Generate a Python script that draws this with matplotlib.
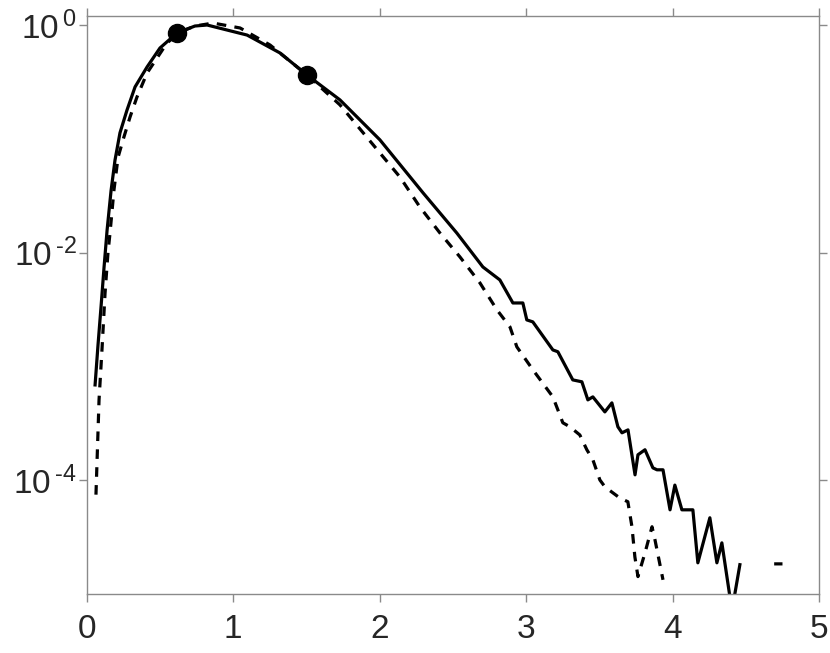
import numpy as np
import matplotlib
matplotlib.use("Agg")
from matplotlib import pyplot as plt
from matplotlib.ticker import FixedLocator, NullLocator

plt.rcParams['font.family'] = ['Liberation Sans', 'DejaVu Sans']
plt.rcParams['mathtext.fontset'] = 'custom'
plt.rcParams['mathtext.rm'] = 'Liberation Sans'

# solid curve (nan = empty bin)
solid_x = [0.057, 0.077, 0.098, 0.118, 0.139, 0.166, 0.193, 0.227, 0.275, 0.330,
           0.412, 0.500, 0.616, 0.739, 0.822, 1.095, 1.32, 1.504, 1.729, 2.002,
           2.297, 2.527, 2.705, 2.821, 2.910, 2.978, 3.005, 3.046, 3.183, 3.217,
           3.319, 3.381, 3.422, 3.456, 3.538, 3.586, 3.627, 3.655, 3.696, 3.744,
           3.764, 3.812, 3.866, 3.894, 3.935, 3.983, 4.016, 4.064, 4.139, 4.173,
           4.255, 4.303, 4.337, 4.406, 4.460, 4.58, 4.705, 4.74]
solid_y = [6.9e-4, 1.55e-3, 3.4e-3, 7.4e-3, 1.58e-2, 3.5e-2, 6.5e-2, 0.113, 0.179, 0.286,
           0.428, 0.628, 0.85, 0.98, 1.0, 0.816, 0.568, 0.364, 0.220, 0.098,
           3.35e-2, 1.49e-2, 7.5e-3, 5.77e-3, 3.62e-3, 3.62e-3, 2.57e-3, 2.47e-3, 1.40e-3, 1.35e-3,
           7.64e-4, 7.35e-4, 5.1e-4, 5.42e-4, 4.0e-4, 4.8e-4, 2.96e-4, 2.62e-4, 2.78e-4, 1.12e-4,
           1.68e-4, 1.86e-4, 1.29e-4, 1.24e-4, 1.24e-4, 5.52e-5, 9.1e-5, 5.52e-5, 5.52e-5, 1.89e-5,
           4.7e-5, 1.89e-5, 2.83e-5, 7.2e-6, 1.82e-5, np.nan, 1.85e-5, 1.85e-5]

# dashed curve
dash_x = [0.063, 0.084, 0.104, 0.125, 0.145, 0.159, 0.186, 0.214, 0.248, 0.296,
          0.343, 0.412, 0.480, 0.548, 0.637, 0.739, 0.863, 1.047, 1.252, 1.504,
          1.729, 2.002, 2.139, 2.275, 2.412, 2.548, 2.685, 2.801, 2.890, 2.937,
          3.047, 3.183, 3.251, 3.299, 3.367, 3.415, 3.456, 3.504, 3.538, 3.586,
          3.641, 3.695, 3.723, 3.743, 3.764, 3.812, 3.860, 3.880, 3.935]
dash_y = [7.5e-5, 5.1e-4, 1.4e-3, 4.4e-3, 1.0e-2, 1.49e-2, 3.56e-2, 6.9e-2, 9.8e-2, 0.156,
          0.233, 0.379, 0.513, 0.695, 0.869, 0.98, 1.04, 0.942, 0.667, 0.364,
          0.199, 0.0752, 4.62e-2, 2.52e-2, 1.49e-2, 9.2e-3, 5.43e-3, 3.15e-3, 2.23e-3, 1.49e-3,
          9.35e-4, 5.42e-4, 3.21e-4, 2.96e-4, 2.51e-4, 1.86e-4, 1.52e-4, 1.01e-4, 8.8e-5, 7.9e-5,
          7.0e-5, 6.5e-5, 3.92e-5, 2.13e-5, 1.43e-5, 2.31e-5, 3.92e-5, 3.02e-5, 1.34e-5]

# highlighted points
mark_x = [0.616, 1.504]
mark_y = [0.85, 0.364]

x_ticks = [0, 1, 2, 3, 4, 5]
y_ticks = [1e-4, 1e-2, 1e0]
y_tick_labels = [r'$\mathregular{10^{\,\text{-}4}}$', r'$\mathregular{10^{\,\text{-}2}}$',
                 r'$\mathregular{10^{\,0}}$']

fig = plt.figure(figsize=(8.3, 6.53), dpi=100)
ax = fig.add_axes([0.1045, 0.0899, 0.8822, 0.8856])

ax.plot(solid_x, solid_y, color='black', lw=2.3)
ax.plot(dash_x, dash_y, color='black', lw=2.3, linestyle=(0, (3.0, 2.6)))
ax.plot(mark_x, mark_y, 'o', color='black', markersize=13)

ax.set_yscale('log')
ax.set_xlim(0, 5)
ax.set_ylim(1e-5, 1.2)
ax.xaxis.set_major_locator(FixedLocator(x_ticks))
ax.yaxis.set_major_locator(FixedLocator(y_ticks))
ax.yaxis.set_minor_locator(NullLocator())
ax.set_yticklabels(y_tick_labels)

spine_color = '#8a8a8a'
for s in ax.spines.values():
    s.set_color(spine_color)
    s.set_linewidth(1.0)
ax.tick_params(which='both', direction='out', length=5.5, width=1.0, color=spine_color,
               labelsize=24, labelcolor='#262626', top=True, right=True)
ax.tick_params(axis='x', pad=9)
ax.tick_params(axis='y', pad=2)

fig.savefig('out.png', dpi=100)
